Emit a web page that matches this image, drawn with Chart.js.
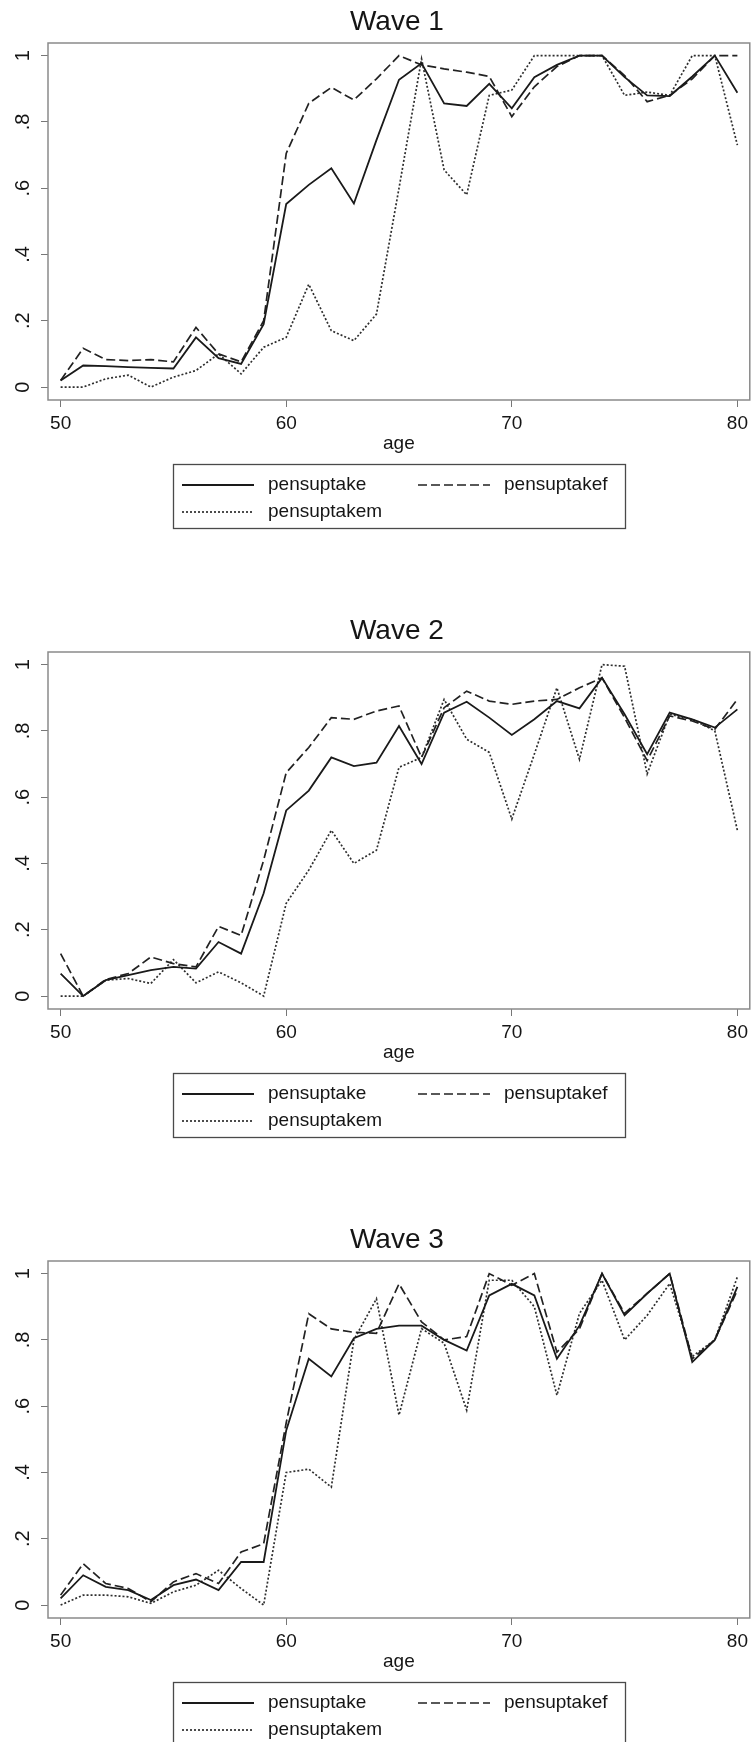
<!DOCTYPE html>
<html>
<head>
<meta charset="utf-8">
<title>Pension uptake by age</title>
<script src="https://cdn.jsdelivr.net/npm/chart.js@4.4.1/dist/chart.umd.min.js"></script>
<style>
  html, body { margin: 0; padding: 0; background: #fff; }
  body { width: 753px; height: 1742px; overflow: hidden; position: relative; }
  canvas { position: absolute; left: 0; width: 753px; height: 609px; }
</style>
</head>
<body>
<canvas id="wave1" width="753" height="609" style="top:0px"></canvas>
<canvas id="wave2" width="753" height="609" style="top:609px"></canvas>
<canvas id="wave3" width="753" height="609" style="top:1218px"></canvas>
<script>
// ages on the x axis
const ages = [50, 51, 52, 53, 54, 55, 56, 57, 58, 59, 60, 61, 62, 63, 64, 65,
              66, 67, 68, 69, 70, 71, 72, 73, 74, 75, 76, 77, 78, 79, 80];
const xTickValues = [50, 60, 70, 80];
const xTickLabels = ['50', '60', '70', '80'];
const yTickValues = [0, 0.2, 0.4, 0.6, 0.8, 1];
const yTickLabels = ['0', '.2', '.4', '.6', '.8', '1'];
const seriesNames = ['pensuptake', 'pensuptakef', 'pensuptakem'];
const waveTitles = ['Wave 1', 'Wave 2', 'Wave 3'];

// Wave 1
const wave1Pensuptake = [0.02, 0.065, 0.063, 0.06, 0.058, 0.056, 0.15, 0.087, 0.07, 0.19, 0.552,
  0.61, 0.66, 0.554, 0.745, 0.927, 0.977, 0.856, 0.848, 0.915, 0.841,
  0.935, 0.972, 1.0, 1.0, 0.935, 0.88, 0.878, 0.937, 1.0, 0.888];
const wave1Pensuptakef = [0.02, 0.117, 0.083, 0.08, 0.083, 0.076, 0.18, 0.10, 0.076, 0.20, 0.705,
  0.856, 0.904, 0.866, 0.93, 1.0, 0.972, 0.96, 0.95, 0.937, 0.816,
  0.906, 0.967, 1.0, 1.0, 0.94, 0.861, 0.88, 0.93, 1.0, 1.0];
const wave1Pensuptakem = [0.0, 0.0, 0.025, 0.036, 0.0, 0.03, 0.05, 0.10, 0.04, 0.12, 0.15,
  0.31, 0.17, 0.14, 0.22, 0.60, 0.99, 0.655, 0.58, 0.88, 0.896,
  1.0, 1.0, 1.0, 1.0, 0.88, 0.89, 0.88, 1.0, 1.0, 0.73];

// Wave 2
const wave2Pensuptake = [0.068, 0.0, 0.048, 0.063, 0.078, 0.088, 0.083, 0.163, 0.128, 0.31, 0.56,
  0.62, 0.72, 0.694, 0.704, 0.815, 0.70, 0.855, 0.888, 0.84, 0.788,
  0.835, 0.89, 0.868, 0.96, 0.85, 0.73, 0.855, 0.835, 0.81, 0.865];
const wave2Pensuptakef = [0.128, 0.0, 0.05, 0.068, 0.118, 0.098, 0.088, 0.21, 0.183, 0.41, 0.674,
  0.75, 0.84, 0.835, 0.86, 0.875, 0.72, 0.87, 0.92, 0.89, 0.88,
  0.89, 0.895, 0.93, 0.96, 0.84, 0.71, 0.845, 0.83, 0.805, 0.895];
const wave2Pensuptakem = [0.0, 0.0, 0.048, 0.053, 0.038, 0.11, 0.04, 0.073, 0.04, 0.0, 0.28,
  0.38, 0.50, 0.40, 0.44, 0.69, 0.72, 0.895, 0.775, 0.735, 0.534,
  0.73, 0.93, 0.714, 1.0, 0.995, 0.67, 0.85, 0.835, 0.80, 0.50];

// Wave 3
const wave3Pensuptake = [0.02, 0.09, 0.055, 0.045, 0.015, 0.06, 0.077, 0.045, 0.13, 0.13, 0.527,
  0.743, 0.69, 0.805, 0.833, 0.843, 0.843, 0.80, 0.768, 0.934, 0.969,
  0.934, 0.743, 0.843, 1.0, 0.874, 0.94, 1.0, 0.733, 0.80, 0.96];
const wave3Pensuptakef = [0.03, 0.125, 0.065, 0.05, 0.01, 0.07, 0.095, 0.065, 0.16, 0.185, 0.55,
  0.879, 0.833, 0.823, 0.82, 0.969, 0.854, 0.80, 0.81, 1.0, 0.965,
  1.0, 0.763, 0.833, 1.0, 0.88, 0.94, 1.0, 0.743, 0.80, 0.95];
const wave3Pensuptakem = [0.0, 0.03, 0.03, 0.025, 0.005, 0.04, 0.06, 0.105, 0.05, 0.0, 0.40,
  0.41, 0.356, 0.80, 0.924, 0.573, 0.834, 0.79, 0.588, 0.98, 0.98,
  0.90, 0.633, 0.88, 0.98, 0.80, 0.874, 0.97, 0.75, 0.80, 0.99];

const waves = [
  [wave1Pensuptake, wave1Pensuptakef, wave1Pensuptakem],
  [wave2Pensuptake, wave2Pensuptakef, wave2Pensuptakem],
  [wave3Pensuptake, wave3Pensuptakef, wave3Pensuptakem]
];

const lineStyles = [
  { borderColor: '#1a1a1a', borderWidth: 1.8, borderDash: [] },
  { borderColor: '#222222', borderWidth: 1.7, borderDash: [9, 4] },
  { borderColor: '#2e2e2e', borderWidth: 1.7, borderDash: [2, 2] }
];

const FONT = '"Liberation Sans", Arial, Helvetica, sans-serif';
Chart.defaults.font.family = FONT;
Chart.defaults.color = '#151515';

// box around the plot region + title
const stataFrame = {
  id: 'stataFrame',
  afterDraw(chart, args, opts) {
    const { ctx, chartArea: a } = chart;
    ctx.save();
    ctx.strokeStyle = '#8a8a8a';
    ctx.lineWidth = 1.5;
    ctx.strokeRect(a.left, a.top, a.right - a.left, a.bottom - a.top);
    ctx.fillStyle = '#151515';
    ctx.font = '28px ' + FONT;
    ctx.textAlign = 'center';
    ctx.textBaseline = 'middle';
    ctx.fillText(opts.text, (a.left + a.right) / 2 - 2, 22);
    ctx.restore();
  }
};

// legend box under the x axis, two columns
const stataLegend = {
  id: 'stataLegend',
  afterDraw(chart) {
    const ctx = chart.ctx;
    const slots = [{ x: 182, y: 485 }, { x: 418, y: 485 }, { x: 182, y: 512 }];
    ctx.save();
    ctx.strokeStyle = '#4a4a4a';
    ctx.lineWidth = 1.3;
    ctx.strokeRect(173.5, 464.5, 452, 64);
    chart.data.datasets.forEach((ds, i) => {
      const s = slots[i];
      ctx.beginPath();
      ctx.setLineDash(ds.borderDash);
      ctx.strokeStyle = ds.borderColor;
      ctx.lineWidth = ds.borderWidth;
      ctx.moveTo(s.x, s.y);
      ctx.lineTo(s.x + 72, s.y);
      ctx.stroke();
      ctx.setLineDash([]);
      ctx.fillStyle = '#151515';
      ctx.font = '19px ' + FONT;
      ctx.textAlign = 'left';
      ctx.textBaseline = 'middle';
      ctx.fillText(ds.label, s.x + 86, s.y);
    });
    ctx.restore();
  }
};

function makeWave(canvasId, title, values) {
  const datasets = values.map((vals, i) => ({
    label: seriesNames[i],
    data: ages.map((a, j) => ({ x: a, y: vals[j] })),
    borderColor: lineStyles[i].borderColor,
    borderWidth: lineStyles[i].borderWidth,
    borderDash: lineStyles[i].borderDash,
    pointRadius: 0,
    tension: 0,
    fill: false
  }));

  return new Chart(document.getElementById(canvasId), {
    type: 'line',
    data: { datasets },
    plugins: [stataFrame, stataLegend],
    options: {
      responsive: false,
      animation: false,
      layout: { padding: { top: 43, right: 3, bottom: 153, left: 0 } },
      plugins: {
        legend: { display: false },
        tooltip: { enabled: false },
        stataFrame: { text: title }
      },
      scales: {
        x: {
          type: 'linear',
          min: 49.44,
          max: 80.55,
          afterBuildTicks: s => { s.ticks = xTickValues.map(v => ({ value: v })); },
          afterFit: s => { s.height = 56; },
          ticks: {
            callback: (v, i) => xTickLabels[i],
            autoSkip: false,
            maxRotation: 0,
            padding: 5,
            color: '#151515',
            font: { size: 19 }
          },
          grid: { drawOnChartArea: false, drawTicks: true, tickLength: 7, color: '#777' },
          border: { display: false },
          title: {
            display: true,
            text: 'age',
            color: '#151515',
            font: { size: 19 },
            padding: { top: 0, bottom: 1 }
          }
        },
        y: {
          type: 'linear',
          min: -0.039,
          max: 1.038,
          afterBuildTicks: s => { s.ticks = yTickValues.map(v => ({ value: v })); },
          afterFit: s => { s.width = 48; },
          ticks: {
            callback: (v, i) => yTickLabels[i],
            autoSkip: false,
            minRotation: 90,
            maxRotation: 90,
            crossAlign: 'center',
            padding: 9,
            color: '#151515',
            font: { size: 20 }
          },
          grid: { drawOnChartArea: false, drawTicks: true, tickLength: 7, color: '#777' },
          border: { display: false }
        }
      }
    }
  });
}

waveTitles.forEach((t, i) => makeWave('wave' + (i + 1), t, waves[i]));
</script>
</body>
</html>
